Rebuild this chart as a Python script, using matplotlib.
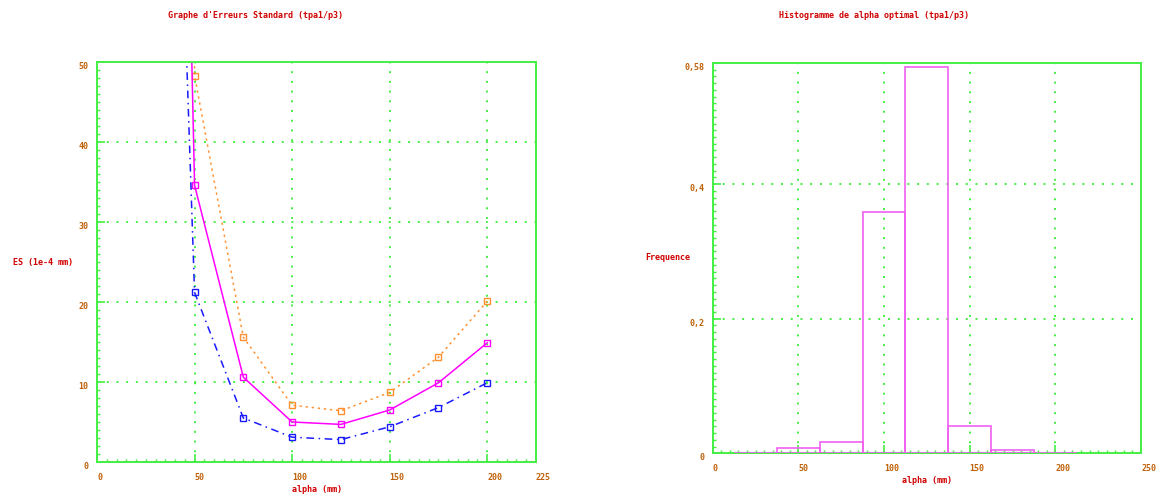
import matplotlib
matplotlib.use("Agg")
import matplotlib.pyplot as plt
from matplotlib.ticker import MultipleLocator

# ---------------- data ----------------
alpha = [25, 50, 75, 100, 125, 150, 175, 200]
es_high = [1000.0, 48.3, 15.6, 7.1, 6.4, 8.7, 13.1, 20.1]   # orange dotted
es_mid = [310.0, 34.6, 10.6, 5.0, 4.7, 6.5, 9.9, 14.9]      # magenta solid
es_low = [201.0, 21.2, 5.5, 3.1, 2.8, 4.4, 6.8, 9.9]        # blue dash-dot

left_xticks = [0, 50, 100, 150, 200, 225]
left_yticks = [0, 10, 20, 30, 40, 50]

hist_centers = [25, 50, 75, 100, 125, 150, 175, 200]
hist_freq = [0.0, 0.0075, 0.0165, 0.358, 0.574, 0.0405, 0.0045, 0.0]
hist_width = 25
right_xticks = [0, 50, 100, 150, 200, 250]
right_yticks = [0, 0.2, 0.4, 0.58]
right_ylabels = ["0", "0,2", "0,4", "0,58"]

# ---------------- style ----------------
FONT = dict(family="DejaVu Sans Mono", weight="bold", size=6)
TICKC = "#c06008"
LABC = "#d00000"
GREEN = "#44ee44"
GRID = dict(color=GREEN, linestyle=(0, (1, 4)), linewidth=1.4)

W, H = 1164, 498
fig = plt.figure(figsize=(W / 100, H / 100), dpi=100)


def px_axes(x0, x1, ytop, ybot):
    return fig.add_axes([x0 / W, 1 - ybot / H, (x1 - x0) / W, (ybot - ytop) / H])


def style(ax):
    for s in ax.spines.values():
        s.set_color(GREEN)
        s.set_linewidth(1.4)
    ax.tick_params(which="both", direction="in", color=GREEN,
                   top=False, right=False, labelcolor=TICKC)
    ax.tick_params(which="major", length=6, width=1.2)
    ax.tick_params(which="minor", length=2, width=1.0)
    ax.grid(True, which="major", **GRID)
    ax.set_axisbelow(True)


# ---------------- left plot ----------------
ax1 = px_axes(97, 536, 62, 462)
ax1.plot(alpha, es_high, color="#ff9030", linestyle=(0, (1.5, 2.5)), linewidth=1.1,
         marker="s", markersize=4, markerfacecolor="none", markeredgewidth=1.0)
ax1.plot(alpha, es_mid, color="#ff00ff", linestyle="-", linewidth=1.1,
         marker="s", markersize=4, markerfacecolor="none", markeredgewidth=1.0)
ax1.plot(alpha, es_low, color="#1a1aff", linestyle=(0, (5, 3, 1, 3)), linewidth=1.1,
         marker="s", markersize=4, markerfacecolor="none", markeredgewidth=1.0)
ax1.set_xlim(0, 225)
ax1.set_ylim(0, 50)
style(ax1)
ax1.set_xticks(left_xticks)
ax1.set_xticklabels([str(v) for v in left_xticks], ha="left", **FONT)
ax1.set_yticks(left_yticks)
ax1.set_yticklabels([str(v) for v in left_yticks], va="top", **FONT)
ax1.xaxis.set_minor_locator(MultipleLocator(5))
ax1.yaxis.set_minor_locator(MultipleLocator(1))
ax1.tick_params(axis="x", pad=8)
ax1.tick_params(axis="y", pad=6)
ax1.xaxis.grid(True, which="major", **GRID)
for gl, v in zip(ax1.get_xgridlines(), left_xticks):
    if v in (0, 225):
        gl.set_visible(False)
for gl, v in zip(ax1.get_ygridlines(), left_yticks):
    if v in (0, 50):
        gl.set_visible(False)

fig.text(256 / W, 1 - 15 / H, "Graphe d'Erreurs Standard (tpa1/p3)",
         ha="center", va="center", color=LABC, **FONT)
fig.text(43 / W, 1 - 262 / H, "ES (1e-4 mm)", ha="center", va="center",
         color=LABC, **FONT)
fig.text(317 / W, 1 - 489 / H, "alpha (mm)", ha="center", va="center",
         color=LABC, **FONT)

# ---------------- right plot ----------------
ax2 = px_axes(712.7, 1141, 63, 453.3)
ax2.bar(hist_centers, hist_freq, width=hist_width, fill=False,
        edgecolor="#f060f0", linewidth=1.2, zorder=3)
ax2.set_xlim(0, 250)
ax2.set_ylim(0, 0.58)
style(ax2)
ax2.set_xticks(right_xticks)
ax2.set_xticklabels([str(v) for v in right_xticks], ha="left", **FONT)
ax2.set_yticks(right_yticks)
ax2.set_yticklabels(right_ylabels, va="top", **FONT)
ax2.xaxis.set_minor_locator(MultipleLocator(5))
ax2.yaxis.set_minor_locator(MultipleLocator(0.01))
ax2.tick_params(axis="x", pad=8)
ax2.tick_params(axis="y", pad=6)
for gl, v in zip(ax2.get_xgridlines(), right_xticks):
    if v in (0, 250):
        gl.set_visible(False)
for gl, v in zip(ax2.get_ygridlines(), right_yticks):
    if v in (0, 0.58):
        gl.set_visible(False)
for s in ax2.spines.values():
    s.set_zorder(1)

fig.text(874 / W, 1 - 15 / H, "Histogramme de alpha optimal (tpa1/p3)",
         ha="center", va="center", color=LABC, **FONT)
fig.text(668 / W, 1 - 257 / H, "Frequence", ha="center", va="center",
         color=LABC, **FONT)
fig.text(927 / W, 1 - 480 / H, "alpha (mm)", ha="center", va="center",
         color=LABC, **FONT)

fig.savefig("out.png", dpi=100)
